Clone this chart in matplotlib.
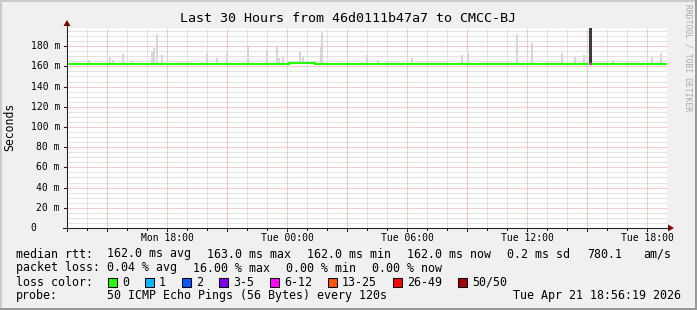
import matplotlib
matplotlib.use("Agg")
import matplotlib.pyplot as plt
from matplotlib.patches import Rectangle, Polygon
import numpy as np

W, H, DPI = 697, 310, 100
MONO = "DejaVu Sans Mono"

title = "Last 30 Hours from 46d0111b47a7 to CMCC-BJ"
y_axis_label = "Seconds"
watermark = "RRDTOOL / TOBI OETIKER"

# time axis: hours since Mon 13:00
x_tick_hours = [5, 11, 17, 23, 29]
x_tick_labels = ["Mon 18:00", "Tue 00:00", "Tue 06:00", "Tue 12:00", "Tue 18:00"]
y_tick_ms = [0, 20, 40, 60, 80, 100, 120, 140, 160, 180]
y_tick_labels = ["0    ", "20 m", "40 m", "60 m", "80 m", "100 m", "120 m",
                 "140 m", "160 m", "180 m"]

# median rtt segments (ms) and their loss colour
seg_start = [0.0, 11.1, 12.4, 26.15, 26.25]
seg_end = [11.1, 12.4, 26.15, 26.25, 30.0]
seg_median = [162.0, 163.0, 162.0, 162.0, 162.0]
seg_loss = ["0", "0", "0", "6-12", "0"]

# smoke (ping spread) spikes: hour, top value (ms)
smoke_hours = [1.1, 2.15, 2.3, 2.8, 3.25, 4.25, 4.35, 4.5, 4.75, 7.0, 7.5, 8.0, 9.05,
               10.0, 10.5, 10.6, 10.8, 11.65, 11.8, 12.7, 12.75, 15.0, 15.55,
               17.25, 19.75, 20.05, 22.5, 23.25, 24.75, 25.4, 25.85, 27.3,
               29.25, 29.7]
smoke_top = [166, 169, 166, 172, 165, 174, 178, 192, 171, 173, 168, 173, 179,
             176, 179, 168, 169, 174, 169, 179, 194, 171, 166,
             168, 171, 173, 192, 183, 173, 169, 171, 166,
             169, 173]
smoke_base = 162.0

# burst with heavy spread
burst_hour = 26.15
burst_low = 162.0
burst_top = 198.0

loss_labels = ["0", "1", "2", "3-5", "6-12", "13-25", "26-49", "50/50"]
loss_colors = ["#26ff00", "#00b8ff", "#0059ff", "#7e00ff", "#ff00ff",
               "#ff5500", "#ff0000", "#a10000"]

legend_rtt = ["median rtt:", "162.0 ms avg", "163.0 ms max", "162.0 ms min",
              "162.0 ms now", "0.2 ms sd", "780.1", "am/s"]
legend_loss = ["packet loss:", "0.04 % avg", "16.00 % max", "0.00 % min",
               "0.00 % now"]
probe_label = "probe:"
probe_text = "50 ICMP Echo Pings (56 Bytes) every 120s"
stamp = "Tue Apr 21 18:56:19 2026"

# ---------------------------------------------------------------------------
fig = plt.figure(figsize=(W / DPI, H / DPI), dpi=DPI, facecolor="#f0f0f0")

PX_L, PX_R, PX_T, PX_B = 67, 667, 28, 228
ax = fig.add_axes([PX_L / W, (H - PX_B) / H, (PX_R - PX_L) / W, (PX_B - PX_T) / H])
ax.set_xlim(0, 30)
ax.set_ylim(0, 198)
ax.set_facecolor("white")
for s in ax.spines.values():
    s.set_visible(False)
ax.set_xticks([])
ax.set_yticks([])

dot = (0, (1, 1))
for v in np.arange(5, 198, 5):
    if v % 20 != 0:
        ax.axhline(v, color="#c8c8c8", lw=0.72, ls=dot, zorder=1)
for h in range(1, 30):
    if (13 + h) % 3 != 0:
        ax.axvline(h, color="#c8c8c8", lw=0.72, ls=dot, zorder=1)
for v in range(20, 198, 20):
    ax.axhline(v, color="#eb9a9a", lw=0.72, ls=dot, zorder=2)
for h in range(1, 31):
    if (13 + h) % 3 == 0:
        ax.axvline(h, color="#eb9a9a", lw=0.72, ls=dot, zorder=2)

# smoke
ax.bar(smoke_hours, np.array(smoke_top) - smoke_base, bottom=smoke_base,
       width=0.06, color="#d6d6d6", zorder=3, linewidth=0)
ax.bar([burst_hour], [burst_top - burst_low], bottom=burst_low, width=0.15,
       color="#3a3a3a", zorder=4, linewidth=0)

# median line
lc = dict(zip(loss_labels, loss_colors))
for i in range(len(seg_start)):
    ax.plot([seg_start[i], seg_end[i]], [seg_median[i], seg_median[i]],
            color=lc[seg_loss[i]], lw=1.5, solid_capstyle="butt", zorder=5)
    if i > 0 and seg_median[i] != seg_median[i - 1]:
        ax.plot([seg_start[i], seg_start[i]], [seg_median[i - 1], seg_median[i]],
                color=lc[seg_loss[i]], lw=1.5, zorder=5)

# ---------------------------------------------------------------------------
ov = fig.add_axes([0, 0, 1, 1])
ov.set_xlim(0, W)
ov.set_ylim(H, 0)
ov.axis("off")
ov.patch.set_alpha(0)

# 3d border
ov.add_patch(Rectangle((0, 0), W, 2, color="#cbcbcb", lw=0))
ov.add_patch(Rectangle((0, 0), 2, H, color="#cbcbcb", lw=0))
ov.add_patch(Rectangle((0, H - 2), W, 2, color="#999999", lw=0))
ov.add_patch(Rectangle((W - 2, 0), 2, H, color="#999999", lw=0))

# axes lines and arrows
ov.plot([PX_L, PX_L], [PX_B + 3, 24], color="#1f1f1f", lw=0.75)
ov.plot([PX_L - 4, 669], [PX_B, PX_B], color="#1f1f1f", lw=0.75)
ov.add_patch(Polygon([(63.5, 26), (70.5, 26), (67, 20)], closed=True,
                     color="#800000", lw=0))
ov.add_patch(Polygon([(668, 224.5), (668, 231.5), (674, 228)], closed=True,
                     color="#800000", lw=0))

px_per_ms = (PX_B - PX_T) / 198.0
px_per_h = (PX_R - PX_L) / 30.0
for v, lab in zip(y_tick_ms, y_tick_labels):
    yy = PX_B - v * px_per_ms
    ov.plot([PX_L - 3, PX_L], [yy, yy], color="#1f1f1f", lw=0.75)
    ov.text(60, yy, lab, ha="right", va="center", family=MONO, fontsize=7.05)
for h in range(1, 30):
    xx = PX_L + h * px_per_h
    ln = 3 if (13 + h) % 3 == 0 else 1.5
    ov.plot([xx, xx], [PX_B, PX_B + ln], color="#1f1f1f", lw=0.75)
for h, lab in zip(x_tick_hours, x_tick_labels):
    ov.text(PX_L + h * px_per_h, 238, lab, ha="center", va="center",
            family=MONO, fontsize=7.05)

ov.text(348, 19, title, ha="center", va="center", family=MONO, fontsize=9.6)
ov.text(10, 127, y_axis_label, ha="center", va="center", rotation=90,
        family=MONO, fontsize=8.3)
ov.text(688, 4, watermark, ha="center", va="top", rotation=-90,
        family=MONO, fontsize=5.8, color="#a8a8a8")

FS = 8.37
rtt_x = [16, 107, 207, 307, 407, 507, 587, 643]
for x, t in zip(rtt_x, legend_rtt):
    ov.text(x, 254, t, ha="left", va="center", family=MONO, fontsize=FS)
loss_x = [16, 107, 193, 286, 372]
for x, t in zip(loss_x, legend_loss):
    ov.text(x, 268, t, ha="left", va="center", family=MONO, fontsize=FS)
ov.text(16, 282, "loss color:", ha="left", va="center", family=MONO, fontsize=FS)
box_x = [108, 145, 182, 219, 270, 328, 393, 458]
for bx, lab, col in zip(box_x, loss_labels, loss_colors):
    ov.add_patch(Rectangle((bx, 277.5), 9, 9, facecolor=col, edgecolor="black", lw=0.75))
    ov.text(bx + 14, 282, lab, ha="left", va="center", family=MONO, fontsize=FS)
ov.text(16, 296, probe_label, ha="left", va="center", family=MONO, fontsize=FS)
ov.text(107, 296, probe_text, ha="left", va="center", family=MONO, fontsize=FS)
ov.text(681, 296, stamp, ha="right", va="center", family=MONO, fontsize=FS)

fig.savefig("out.png", dpi=DPI, facecolor=fig.get_facecolor())
